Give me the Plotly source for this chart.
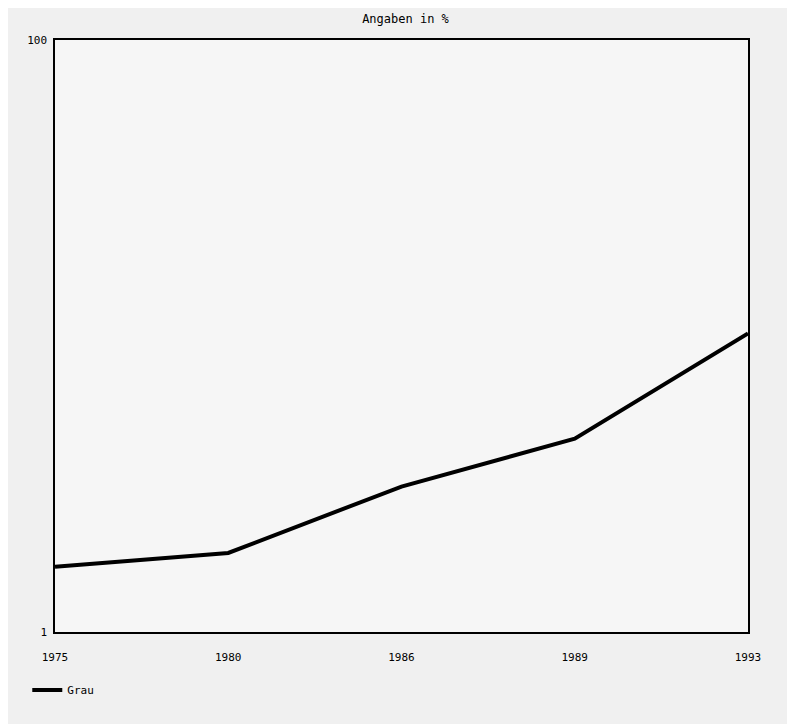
import plotly.graph_objects as go

years = ["1975", "1980", "1986", "1989", "1993"]
grau = [1.66, 1.85, 3.1, 4.5, 10.2]
y_ticks = [1, 100]
y_tick_labels = ["1", "100"]

fig = go.Figure()
fig.add_trace(go.Scatter(
    x=years, y=grau, mode="lines", name="Grau",
    line=dict(color="black", width=4),
))

font = dict(family="DejaVu Sans Mono", size=11, color="black")
fig.update_layout(
    width=795, height=724,
    margin=dict(l=47, r=55, t=32, b=100),
    paper_bgcolor="#f0f0f0",
    plot_bgcolor="#f6f6f6",
    font=font,
    title=dict(text="Angaben in %", x=0.5, xanchor="center", y=0.985, yanchor="middle",
               font=dict(family="DejaVu Sans Mono", size=12, color="black")),
    showlegend=True,
    legend=dict(orientation="h", x=-0.04, xanchor="left", y=-0.098, yanchor="middle",
                bgcolor="rgba(0,0,0,0)", font=font),
    xaxis=dict(type="category", range=[0, 4], showgrid=False, zeroline=False,
               showline=True, linecolor="black", linewidth=1.5, mirror=True,
               ticks="", ticklabelstandoff=14),
    yaxis=dict(type="log", range=[0, 2], showgrid=False, zeroline=False,
               showline=True, linecolor="black", linewidth=1.5, mirror=True,
               tickvals=y_ticks, ticktext=y_tick_labels, ticks="", ticklabelstandoff=4),
)

fig.write_html("out.html")
